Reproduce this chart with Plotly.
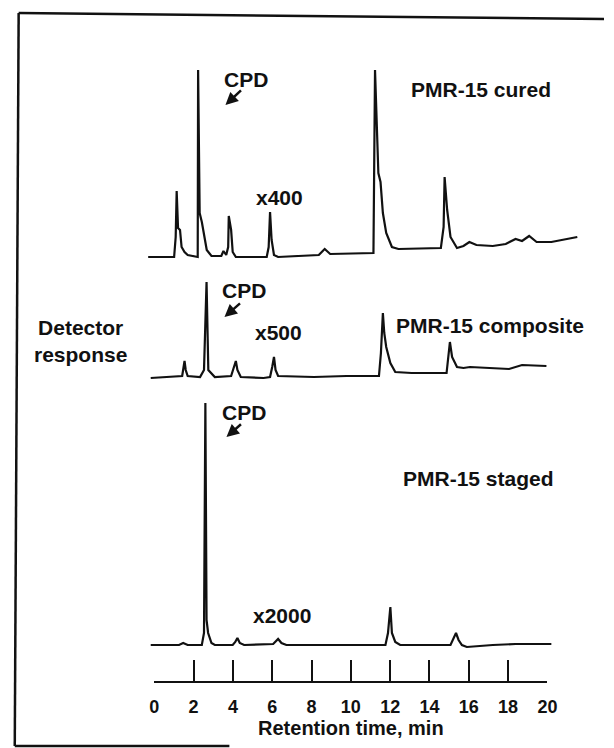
import plotly.graph_objects as go

# ---------------- data (retention time in min, detector response in arbitrary units) -------------
cured_time = [-0.31, 1.01, 1.09, 1.14, 1.21, 1.31, 1.39, 1.54, 1.70, 2.00, 2.21, 2.23, 2.31, 2.42,
              2.53, 2.67, 2.91, 3.41, 3.52, 3.66, 3.76, 3.79, 3.91, 3.99, 4.15, 5.72, 5.82, 5.89,
              5.97, 6.09, 6.30, 8.37, 8.67, 8.95, 11.15, 11.23, 11.40, 11.51, 11.63, 11.80, 12.09,
              12.42, 14.58, 14.72, 14.77, 14.90, 15.07, 15.40, 15.73, 16.03, 16.39, 17.22, 17.88,
              18.38, 18.71, 19.07, 19.45, 20.20, 21.52]
cured_resp = [0, 0, 20, 66, 29, 27, 10, 5, 2, 1, 0, 187, 44, 35,
              24, 7, 1, 1, 6, 2, 10, 41, 27, 5, 0, 0, 10, 45,
              17, 2, 0, 2, 8, 3, 4, 187, 84, 75, 44, 24, 10,
              8, 9, 30, 80, 47, 20, 9, 11, 15, 12, 11, 13,
              18, 16, 21, 15, 15, 20]

composite_time = [-0.18, 0.68, 1.42, 1.54, 1.60, 1.70, 2.33, 2.53, 2.66, 2.75, 2.91, 3.08, 3.91,
                  4.07, 4.15, 4.23, 4.40, 5.56, 5.89, 6.00, 6.09, 6.17, 6.30, 8.12, 9.78, 11.43,
                  11.53, 11.63, 11.70, 11.80, 12.01, 12.26, 13.09, 14.87, 14.97, 15.04, 15.15,
                  15.40, 15.73, 16.06, 18.05, 18.71, 19.95]
composite_resp = [-1, 0, 1, 16, 7, 1, 0, 7, 95, 7, 4, 0, 1,
                  10, 16, 7, 0, -1, 0, 10, 20, 7, 1, 0, 1, 1,
                  24, 64, 44, 30, 14, 5, 4, 4, 24, 35, 20,
                  10, 9, 10, 8, 12, 11]

staged_time = [-0.18, 1.26, 1.47, 1.70, 2.42, 2.53, 2.60, 2.66, 2.74, 2.91, 3.08, 3.99, 4.12,
               4.23, 4.35, 4.57, 6.05, 6.22, 6.30, 6.47, 6.72, 11.76, 11.89, 12.01, 12.09,
               12.26, 12.51, 15.07, 15.24, 15.35, 15.48, 15.65, 15.90, 17.22, 18.38, 20.20]
staged_resp = [0, 0, 2, 0, 0, 12, 242, 25, 12, 2, 0, 0, 3,
               7, 2, 0, 1, 5, 6, 2, 0, 0, 12, 38, 12,
               3, 0, 0, 8, 12, 5, 0, -2, 0, 1, 1]

tick_vals = [0, 2, 4, 6, 8, 10, 12, 14, 16, 18, 20]
tick_text = ["0", "2", "4", "6", "8", "10", "12", "14", "16", "18", "20"]

# ---------------- layout geometry ----------------
W, H = 614, 748
PX_PER_MIN = 20.15
X0_PX = 153            # pixel of t = 0
X_MIN = -X0_PX / PX_PER_MIN
X_MAX = X_MIN + W / PX_PER_MIN
offsets = {"cured": H - 257, "composite": H - 377, "staged": H - 645}
AXIS_Y_PX = 682

FONT = "Liberation Sans, Arial, Helvetica, sans-serif"
INK = "#111"


def paper(xp, yp):
    return xp / W, 1 - yp / H


fig = go.Figure()
for name, t, r in [("cured", cured_time, cured_resp),
                   ("composite", composite_time, composite_resp),
                   ("staged", staged_time, staged_resp)]:
    fig.add_trace(go.Scatter(x=t, y=[offsets[name] + v for v in r], mode="lines",
                             line=dict(color=INK, width=2.2), showlegend=False,
                             hoverinfo="skip"))

# empty trace so the visible time axis gets drawn
fig.add_trace(go.Scatter(x=[], y=[], xaxis="x2", yaxis="y", showlegend=False))

annots = []


def text(s, xp, yp, size=21):
    x, y = paper(xp, yp)
    annots.append(dict(text=s, x=x, y=y, xref="paper", yref="paper", showarrow=False,
                       xanchor="center", yanchor="middle",
                       font=dict(family=FONT, size=size, color=INK, weight="bold")))


def arrow(x_tail, y_tail, x_head, y_head):
    x, y = paper(x_head, y_head)
    annots.append(dict(text="", x=x, y=y, xref="paper", yref="paper", showarrow=True,
                       ax=x_tail - x_head, ay=y_tail - y_head, axref="pixel", ayref="pixel",
                       arrowhead=2, arrowsize=1.0, arrowwidth=2.5, arrowcolor=INK))


text("CPD", 247, 80)
arrow(243, 89, 226, 105)
text("PMR-15 cured", 488, 89)
text("x400", 281, 198)

text("CPD", 245, 290)
arrow(242, 302, 225, 317)
text("x500", 280, 332)
text("PMR-15 composite", 497, 325)

text("CPD", 245, 412)
arrow(243, 423, 227, 437)
text("PMR-15 staged", 485, 478)
text("x2000", 284, 615)

text("Detector<br>response", 77, 341)

# frame around the figure
shapes = []
for (xa, ya, xb, yb) in [(14, 13, 614, 19), (14, 13, 10, 746), (10, 746, 230, 746)]:
    p0 = paper(xa, ya)
    p1 = paper(xb, yb)
    shapes.append(dict(type="line", xref="paper", yref="paper", x0=p0[0], y0=p0[1],
                       x1=p1[0], y1=p1[1], line=dict(color=INK, width=2.5)))

fig.update_layout(
    width=W, height=H, autosize=False, margin=dict(l=0, r=0, t=0, b=0),
    paper_bgcolor="white", plot_bgcolor="rgba(0,0,0,0)",
    showlegend=False, annotations=annots, shapes=shapes,
    xaxis=dict(range=[X_MIN, X_MAX], visible=False, fixedrange=True),
    yaxis=dict(range=[0, H], visible=False, fixedrange=True),
    xaxis2=dict(domain=[X0_PX / W, (X0_PX + 20 * PX_PER_MIN) / W], range=[0, 20],
                anchor="free", position=1 - AXIS_Y_PX / H,
                showline=True, linecolor=INK, linewidth=2,
                ticks="inside", ticklen=21, tickwidth=2, tickcolor=INK,
                tickvals=tick_vals, ticktext=tick_text, ticklabelstandoff=8,
                showgrid=False, zeroline=False, fixedrange=True,
                tickfont=dict(family=FONT, size=18, color=INK, weight="bold"),
                title=dict(text="Retention time, min", standoff=4,
                           font=dict(family=FONT, size=20, color=INK, weight="bold"))),
)

# remove the default page margin so the figure sits at the window origin
post = (
    "document.documentElement.style.overflow='hidden';"
    "document.body.style.margin='0';"
    "document.body.style.overflow='hidden';"
)

fig.write_html("out.html", config={"displayModeBar": False, "responsive": False},
               post_script=post)
